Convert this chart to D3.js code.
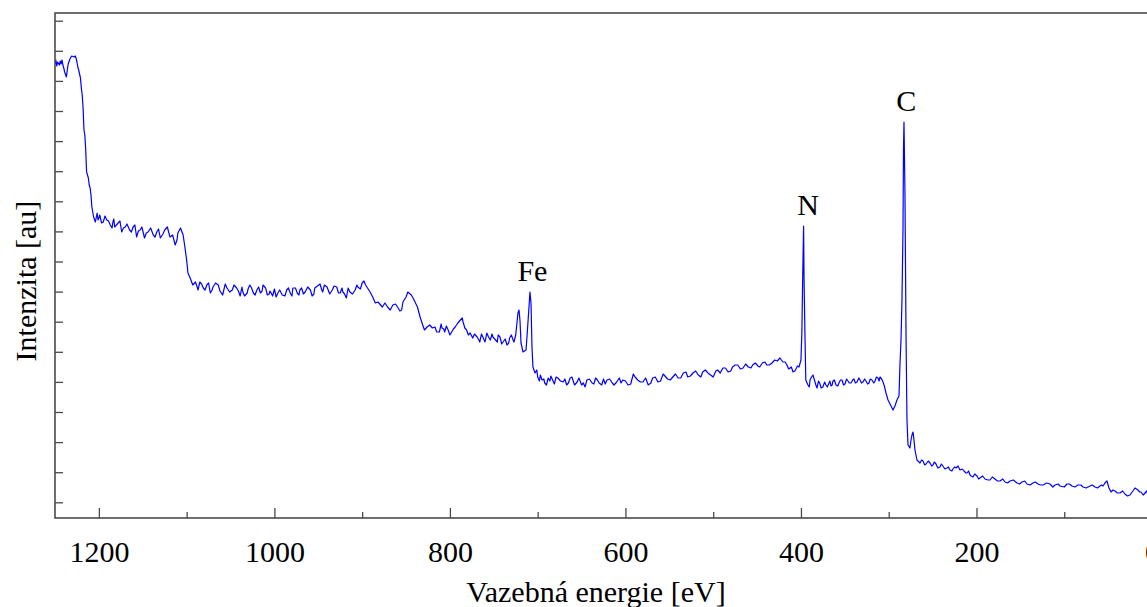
<!DOCTYPE html>
<html><head><meta charset="utf-8">
<script src="https://cdn.jsdelivr.net/npm/d3@7"></script>
<style>body{margin:0;background:#fff;} svg{display:block;}</style>
</head><body>
<svg id="c" width="1147" height="607"></svg>
<script>
// XPS survey spectrum: [binding energy (eV), intensity (au)] — main trace
const spectrum = [
[1250,454],[1249,458],[1248,452],[1247,456],[1245,453],[1244,457],[1243,454],[1242,458],[1241,453],[1240,450],
[1239,446],[1237,441],[1236,448],[1235,454],[1233,459],[1231,462],[1228,461],[1227,462],[1226,460],[1225,456],
[1224,451],[1223,448],[1221,440],[1220,430],[1219,423],[1218,410],[1217,388],[1216,383],[1215,368],[1214,346],
[1212,340],[1211,333],[1210,330],[1209,323],[1208,311],[1207,306],[1206,301],[1204,296],[1202,305],[1201,298],
[1199,303],[1195,296],[1191,298],[1187,293],[1184,296],[1182,291],[1178,295],[1174,286],[1170,291],[1165,288],
[1161,291],[1157,281],[1153,288],[1148,280],[1144,286],[1138,283],[1134,286],[1130,280],[1125,288],[1119,281],
[1113,273],[1110,285],[1107,290],[1104,283],[1102,271],[1100,258],[1098.5,245],[1096,240],[1093,233],[1088,231],
[1085,236],[1081,230],[1077,233],[1073,225],[1070,231],[1064,233],[1059,223],[1054,230],[1048,228],[1043,230],
[1039,222],[1036,226],[1031,225],[1028,233],[1024,225],[1020,228],[1016,225],[1013,233],[1008,223],[1005,227],
[1002,222],[996,225],[991,223],[986,228],[982,225],[979,230],[974,225],[971,228],[967,224],[962,231],
[957,222],[954,230],[948,234],[945,226],[940,231],[934,228],[929,231],[925,225],[922,226],[918,220],
[914,226],[908,228],[905,231],[900,235],[898,237],[896,233],[891,226],[888,221],[885,215],[882,216],
[877,211],[874,215],[871,211],[865,213],[859,210],[855,208],[853.5,216],[850,221],[848,226],[844,223],
[842,220],[837,211],[834,201],[831,193],[826,191],[820,190],[817,191],[812,186],[809,190],[806,186],
[802,188],[798,186],[794,191],[791,195],[786,200],[785,196],[781,188],[777,185],[774,180],[769,181],
[766,176],[762,180],[758,185],[754,178],[751,181],[746,176],[743,181],[739.5,176],[735,173],[732,180],
[728,178],[725,183],[722.5,205],[721.3,208],[720.2,198],[719,175],[716.7,166],[713.3,168],[712.2,181],[709.9,211],
[708.8,226],[707.6,215],[706.5,171],[705.4,151],[703,145],[701,148],[700,141],[695,138],[692,135],[688,140],
[683,138],[677,140],[671,136],[667,133],[661,141],[655,136],[650,133],[644,138],[638,135],[632,138],
[627,133],[621,138],[615,135],[610,136],[603,138],[597,133],[591,144],[586,138],[580,136],[574,133],
[569,140],[563,136],[557,144],[552,139],[546,141],[540,140],[534,145],[529,141],[523,145],[517,143],
[512,146],[506,145],[500,141],[495,148],[489,150],[483,146],[478,151],[472,153],[466,150],[460,151],
[455,153],[449,152],[444,155],[439,153],[433,155],[427,157],[424,160],[420.5,156],[416,153],[412.5,150],
[409,146],[405.7,149],[402.2,151],[400,158],[399,185],[398,241],[397,292],[396.5,241],[395.5,185],[394.5,138],
[392,133],[389.7,138],[386.3,143],[384,136],[381.7,130],[378.3,134],[375,131],[371.5,133],[368,135],[365.8,132],
[363.5,137],[360,133],[356.7,135],[353.2,138],[349.8,134],[346.4,137],[343,135],[339.6,139],[336.2,136],[332.7,138],
[329.3,136],[325.9,137],[322.5,135],[319.1,138],[315.6,137],[312.2,140],[309.9,141],[306.5,136],[303.1,125],[300.8,118],
[298.5,114],[295.1,108],[292.9,112],[290.6,118],[288.3,122],[287.2,153],[286,178],[284.9,218],[283.7,291],[283.2,368],
[282.6,396],[282,358],[281.5,325],[280.3,185],[279.2,98],[278,73],[275.8,70],[274.6,78],[273.5,83],[272.3,86],
[271.2,78],[270.1,68],[267.8,58],[264.4,55],[260.9,57],[257.5,54],[253,55],[249.6,53],[246.1,54],[241.6,51],
[238.2,52],[233.6,50],[230.2,48],[226.8,49],[223.3,50],[221.1,52],[218.8,48],[214.2,47],[210.8,45],[207.4,43],
[204,41],[199.4,42],[196,40],[190.3,39],[184.6,38],[178.9,39],[173.2,37],[167.5,36],[161.8,37],[153.8,35],
[148.1,36],[142.4,34],[135.6,35],[129.9,34],[124.2,33],[116.2,34],[110.5,33],[104.8,32],[96.9,34],[91.2,32],
[84.3,33],[78.6,31],[70.6,32],[65,31],[59.3,32],[55.8,32],[53.6,35],[51.3,37],[49,30],[46.7,26],
[42.2,27],[36.5,25],[30.8,24],[25.1,23],[21.7,27],[19.4,30],[16,28],[12.5,26],[8,25],[4.6,23],[0,22]
];
// extra in-between readings of the noise on the flat parts
const spectrumNoise = [
[1200,300],[1197,295],[1193,302],[1189,297],[1185,290],[1183,299],[1180,293],[1176,297],[1172,290],[1168,294],
[1163,286],[1159,293],[1155,287],[1151,291],[1146,285],[1141,290],[1136,281],[1132,289],[1127,284],[1122,291],
[1116,283],[1111,278],
[1090,236],[1087,228],[1083,234],[1079,228],[1075,235],[1071,228],[1067,235],[1062,227],[1056,234],[1051,226],
[1046,233],[1041,227],[1037,231],[1034,222],[1030,229],[1026,230],[1022,223],[1018,231],[1014,227],[1010,230],
[1006,224],[1000,229],[998,221],[994,228],[988,222],[984,230],[980,222],[976,230],[972,223],[969,230],
[965,226],[959,228],[955,224],[951,232],[946,228],[943,233],[937,224],[932,232],[927,225],[923,230],
[920,224],[916,230],[911,224],[906,233],[902,229],
[868,208],[862,214],[857,207],[829,188],[823,193],[815,186],[810,194],[807,189],[804,192],[800,183],
[796,189],[783,190],[779,183],[772,184],[767,178],[764,184],[760,176],[756,181],[752,184],[748,178],
[745,183],[741,174],[737,179],[733,175],[730,183],[727,176],
[698,137],[697,143],[693,139],[690,133],[686,137],[685,142],[681,134],[679,141],[674,137],[669,139],
[665,135],[663,140],[658,133],[653,140],[648,135],[646,131],[641,139],[636,134],[634,140],[630,135],
[625,139],[623,134],[618,139],[613,133],[607,140],[605,135],[600,137],[594,134],[589,141],[583,136],
[577,140],[571,135],[566,141],[560,137],[555,142],[549,138],[543,144],[537,140],[531,146],[526,142],
[520,147],[514,141],[509,148],[503,143],[497,147],[492,145],[486,150],[480,147],[475,153],[469,149],
[463,154],[457,150],[452,155],[447,151],[441,156],[436,153],[430,158],[418,156],[414,149],[411,151],
[407,147],[404,152],
[390.5,131],[388,141],[383,133],[380,137],[377,130],[373,136],[370,131],[367,137],[364.5,133],[362,138],
[358,132],[355,138],[351.5,133],[348,139],[345,135],[341,138],[338,135],[334,140],[331,135],[327.5,139],
[324,134],[321,139],[317,135],[314,141],[311,137],[308,139],[305,132],
[262.5,58],[259,53],[255,57],[251,52],[248,56],[244,50],[240,54],[236,49],[232,51],[228,47],
[225,51],[216,49],[212,45],[209,47],[206,42],[202,44],[197.5,39],[193,42],[187,38],[182,41],
[176,37],[170,39],[164.5,35],[158,38],[151,34],[145,37],[139,33],[133,36],[127,33],[120,35],
[113,31],[107,34],[100,31],[94,34],[88,31],[81,33],[75,30],[68,33],[62,30],[57.5,33],
[44.5,28],[39.5,25],[33.5,27],[28,22],[23.5,25],[14,26],[10,23],[6,27],[2,22]
];
const xTicksMajor = [1200, 1000, 800, 600, 400, 200, 0];
const xTicksMinor = [1100, 900, 700, 500, 300, 100];
const yTicks = [497.3, 467.2, 437.1, 407, 376.9, 346.8, 316.7, 286.6, 256.5, 226.4, 196.3, 166.2, 136.1, 106, 75.9, 45.8, 15.7];
const peakLabels = [{name: "Fe", energy: 706}, {name: "N", energy: 392}, {name: "C", energy: 280}];
const xTitle = "Vazebná energie [eV]";
const yTitle = "Intenzita [au]";

const data = spectrum.concat(spectrumNoise).sort((a, b) => b[0] - a[0]);

const FONT = "'Liberation Serif','Times New Roman',serif";
const FS = 30;
const svg = d3.select("#c");
const L = 55, R = 1152, T = 13, B = 518;
const x = d3.scaleLinear().domain([1250, 0]).range([L, R]);
const y = d3.scaleLinear().domain([0, 505]).range([B, T]);
const axisColor = "#4a4a4a";

svg.append("defs").append("clipPath").attr("id", "clip")
  .append("rect").attr("x", L).attr("y", T).attr("width", R - L).attr("height", B - T);

// line
svg.append("path").datum(data)
  .attr("clip-path", "url(#clip)")
  .attr("fill", "none").attr("stroke", "#0000ff").attr("stroke-width", 1.2)
  .attr("stroke-linejoin", "round")
  .attr("d", d3.line().x(d => x(d[0])).y(d => y(d[1])));

// x axis major
const gx = svg.append("g").attr("transform", `translate(0,${B})`)
  .call(d3.axisBottom(x).tickValues(xTicksMajor).tickSize(-10).tickPadding(23).tickFormat(d3.format("d")));
gx.select(".domain").remove();
gx.selectAll("line").attr("stroke", axisColor).attr("stroke-width", 1.3);
gx.selectAll("text").attr("font-family", FONT).attr("font-size", FS).attr("fill", "#000");
// x axis minor
const gxm = svg.append("g").attr("transform", `translate(0,${B})`)
  .call(d3.axisBottom(x).tickValues(xTicksMinor).tickSize(-6).tickFormat(""));
gxm.select(".domain").remove();
gxm.selectAll("line").attr("stroke", axisColor).attr("stroke-width", 1.3);

// y axis
const gy = svg.append("g").attr("transform", `translate(${L},0)`)
  .call(d3.axisLeft(y).tickValues(yTicks).tickSize(-8).tickFormat(""));
gy.select(".domain").remove();
gy.selectAll("line").attr("stroke", axisColor).attr("stroke-width", 1.3);

// frame
svg.append("rect").attr("x", L).attr("y", T).attr("width", R - L).attr("height", B - T)
  .attr("fill", "none").attr("stroke", axisColor).attr("stroke-width", 1.6);

// titles
svg.append("text").attr("x", 596).attr("y", 602).attr("text-anchor", "middle")
  .attr("font-family", FONT).attr("font-size", FS).attr("fill", "#000").text(xTitle);
svg.append("text").attr("transform", `translate(36,281) rotate(-90)`).attr("text-anchor", "middle")
  .attr("font-family", FONT).attr("font-size", FS).attr("fill", "#000").text(yTitle);

// peak labels
peakLabels.forEach(p => {
  const near = data.filter(d => Math.abs(d[0] - p.energy) < 8);
  const top = d3.max(near, d => d[1]);
  svg.append("text").attr("x", x(p.energy)).attr("y", y(top) - 11)
    .attr("text-anchor", "middle").attr("font-family", FONT).attr("font-size", FS)
    .attr("fill", "#000").text(p.name);
});
</script>
</body></html>
